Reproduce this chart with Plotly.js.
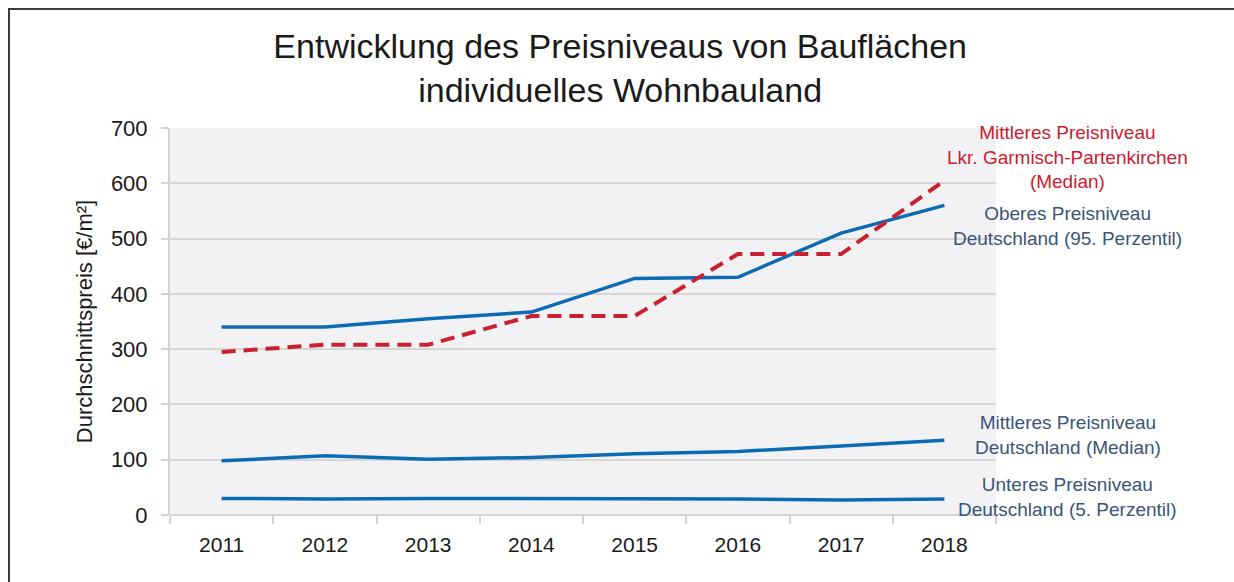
<!DOCTYPE html>
<html>
<head>
<meta charset="utf-8">
<script src="https://cdn.plot.ly/plotly-3.0.1.min.js"></script>
<style>
  html, body { margin: 0; padding: 0; background: #fff; }
  #chart { width: 1234px; height: 582px; }
  #frame { position: absolute; left: 8px; top: 8px; width: 1240px; height: 590px;
           border-top: 2px solid #3a3a3a; border-left: 2px solid #3a3a3a; pointer-events: none; }
</style>
</head>
<body>
<div id="chart"></div>
<div id="frame"></div>
<script>
const years = ['2011', '2012', '2013', '2014', '2015', '2016', '2017', '2018'];
const oberesDE = [340, 340, 355, 367, 428, 430, 510, 560];
const mittleresGAP = [295, 308, 308, 360, 360, 472, 472, 605];
const mittleresDE = [98, 107, 101, 104, 111, 115, 125, 135];
const unteresDE = [30, 29, 30, 30, 30, 29, 27, 29];

const labelGAP = 'Mittleres Preisniveau<br>Lkr. Garmisch-Partenkirchen<br>(Median)';
const labelOberes = 'Oberes Preisniveau<br>Deutschland (95. Perzentil)';
const labelMittleres = 'Mittleres Preisniveau<br>Deutschland (Median)';
const labelUnteres = 'Unteres Preisniveau<br>Deutschland (5. Perzentil)';

const blue = '#0b6cb5';
const red = '#c8202f';
const textBlue = '#3b5478';

const traces = [
  {x: years, y: oberesDE, type: 'scatter', mode: 'lines', name: 'Oberes', line: {color: blue, width: 3.5}},
  {x: years, y: mittleresDE, type: 'scatter', mode: 'lines', name: 'Mittleres DE', line: {color: blue, width: 3.5}},
  {x: years, y: unteresDE, type: 'scatter', mode: 'lines', name: 'Unteres', line: {color: blue, width: 3.5}},
  {x: years, y: mittleresGAP, type: 'scatter', mode: 'lines', name: 'GAP', line: {color: red, width: 4, dash: '14px,8px'}}
];

const annFont = {family: 'Liberation Sans, Arial, sans-serif', size: 19};
const layout = {
  width: 1234, height: 582,
  margin: {l: 170, r: 238, t: 128, b: 67},
  paper_bgcolor: '#ffffff',
  plot_bgcolor: '#f2f2f4',
  showlegend: false,
  title: {
    text: 'Entwicklung des Preisniveaus von Bauflächen<br>individuelles Wohnbauland',
    font: {family: 'Liberation Sans, Arial, sans-serif', size: 34, color: '#1a1a1a'},
    x: 0.545, xref: 'paper', xanchor: 'center',
    y: 0.9, yanchor: 'middle', yref: 'container'
  },
  xaxis: {
    type: 'category',
    tickson: 'boundaries',
    ticks: 'outside', ticklen: 8, tickwidth: 2, tickcolor: '#d3d3d3',
    showline: false, showgrid: false, zeroline: false,
    tickfont: {family: 'Liberation Sans, Arial, sans-serif', size: 21, color: '#1a1a1a'},
    ticklabelstandoff: 15,
    range: [-0.5, 7.5]
  },
  yaxis: {
    range: [0, 700],
    dtick: 100,
    ticks: 'outside', ticklen: 7, tickwidth: 2, tickcolor: '#d3d3d3',
    showgrid: true, gridcolor: '#d6d6d6', gridwidth: 2,
    showline: true, linecolor: '#d3d3d3', linewidth: 2,
    zeroline: true, zerolinecolor: '#d6d6d6', zerolinewidth: 2,
    tickfont: {family: 'Liberation Sans, Arial, sans-serif', size: 22, color: '#1a1a1a'},
    ticklabelstandoff: 9,
    title: {text: 'Durchschnittspreis [€/m²]', font: {family: 'Liberation Sans, Arial, sans-serif', size: 22, color: '#1a1a1a'}, standoff: 12}
  },
  annotations: [
    {text: labelGAP, xref: 'paper', yref: 'paper', x: 1.087, y: 0.925, xanchor: 'center', yanchor: 'middle', showarrow: false, align: 'center', font: Object.assign({color: red}, annFont)},
    {text: labelOberes, xref: 'paper', yref: 'paper', x: 1.087, y: 0.747, xanchor: 'center', yanchor: 'middle', showarrow: false, align: 'center', font: Object.assign({color: textBlue}, annFont)},
    {text: labelMittleres, xref: 'paper', yref: 'paper', x: 1.087, y: 0.207, xanchor: 'center', yanchor: 'middle', showarrow: false, align: 'center', font: Object.assign({color: textBlue}, annFont)},
    {text: labelUnteres, xref: 'paper', yref: 'paper', x: 1.087, y: 0.0465, xanchor: 'center', yanchor: 'middle', showarrow: false, align: 'center', font: Object.assign({color: textBlue}, annFont)}
  ]
};

Plotly.newPlot('chart', traces, layout, {displayModeBar: false, staticPlot: true});
</script>
</body>
</html>
